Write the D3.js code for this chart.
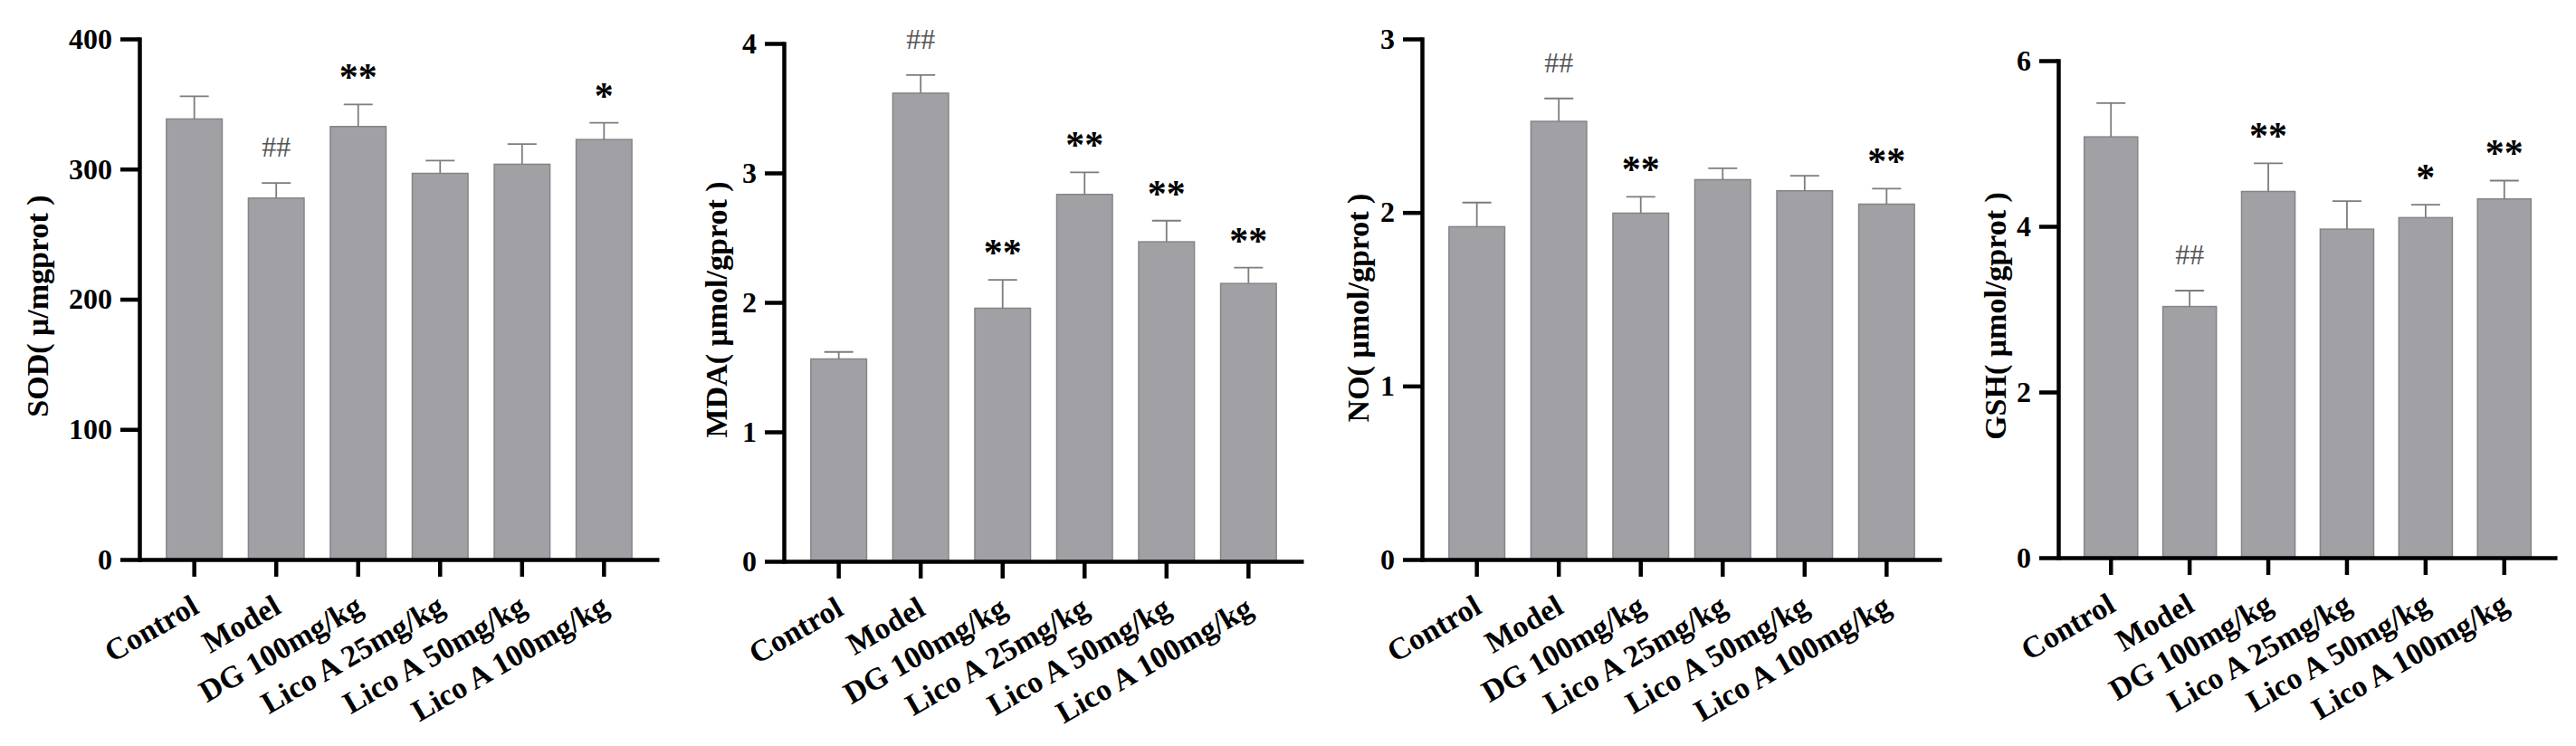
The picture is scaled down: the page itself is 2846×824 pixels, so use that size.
<!DOCTYPE html>
<html>
<head>
<meta charset="utf-8">
<script src="https://cdn.jsdelivr.net/npm/d3@7/dist/d3.min.js"></script>
<style>
  body { margin: 0; background: #fff; }
  svg text { font-family: "Liberation Serif", "Times New Roman", serif; }
</style>
</head>
<body>
<div id="chart"></div>
<script>
// groups on the x axis (same for the four panels)
var groups = ["Control", "Model", "DG 100mg/kg", "Lico A 25mg/kg", "Lico A 50mg/kg", "Lico A 100mg/kg"];

// SOD
var sodMean = [338.5, 277.7, 332.7, 296.7, 303.7, 322.7];
var sodErr = [17.4, 11.6, 16.9, 9.8, 15.5, 12.8];
var sodMarks = ["", "##", "**", "", "", "*"];
var sodTicks = [0, 100, 200, 300, 400];

// MDA
var mdaMean = [1.563, 3.616, 1.955, 2.834, 2.468, 2.146];
var mdaErr = [0.054, 0.14, 0.219, 0.17, 0.163, 0.123];
var mdaMarks = ["", "##", "**", "**", "**", "**"];
var mdaTicks = [0, 1, 2, 3, 4];

// NO
var noMean = [1.918, 2.525, 1.996, 2.189, 2.125, 2.048];
var noErr = [0.139, 0.132, 0.094, 0.066, 0.087, 0.089];
var noMarks = ["", "##", "**", "", "", "**"];
var noTicks = [0, 1, 2, 3];

// GSH
var gshMean = [5.080, 3.032, 4.421, 3.966, 4.105, 4.331];
var gshErr = [0.408, 0.192, 0.339, 0.339, 0.156, 0.221];
var gshMarks = ["", "##", "**", "", "*", "**"];
var gshTicks = [0, 2, 4, 6];

var titles = ["SOD( \u03bc/mgprot )", "MDA( \u03bcmol/gprot )", "NO( \u03bcmol/gprot )", "GSH( \u03bcmol/gprot )"];

// panel layout (pixels)
var panels = [
    {mean: sodMean, err: sodErr, marks: sodMarks, ticks: sodTicks, left: 154, right: 728, bottom: 618, top: 43, titleX: 53, titleY: 338},
    {mean: mdaMean, err: mdaErr, marks: mdaMarks, ticks: mdaTicks, left: 866, right: 1440, bottom: 620, top: 48, titleX: 803, titleY: 342},
    {mean: noMean, err: noErr, marks: noMarks, ticks: noTicks, left: 1571, right: 2145, bottom: 618, top: 43, titleX: 1512, titleY: 340},
    {mean: gshMean, err: gshErr, marks: gshMarks, ticks: gshTicks, left: 2274, right: 2825, bottom: 616, top: 67, titleX: 2216, titleY: 349}
];

var svg = d3.select("#chart")
    .append("svg")
    .attr("width", 2846)
    .attr("height", 824);

svg.append("rect")
    .attr("width", 2846)
    .attr("height", 824)
    .attr("fill", "#fff");

panels.forEach(function(p, k) {
    var g = svg.append("g");
    var ticks = p.ticks;

    var x = d3.scaleBand()
        .domain(groups)
        .range([p.left, p.right])
        .paddingInner(0.32)
        .paddingOuter(0.33);

    var y = d3.scaleLinear()
        .domain([0, ticks[ticks.length - 1]])
        .range([p.bottom, p.top]);

    var data = groups.map(function(name, i) {
        return {name: name, mean: p.mean[i], err: p.err[i], mark: p.marks[i]};
    });

    // bars
    g.selectAll("rect.bar")
        .data(data)
        .enter()
        .append("rect")
        .attr("class", "bar")
        .attr("x", function(d) { return x(d.name); })
        .attr("y", function(d) { return y(d.mean); })
        .attr("width", x.bandwidth())
        .attr("height", function(d) { return y(0) - y(d.mean); })
        .attr("fill", "#a1a1a5")
        .attr("stroke", "#858588")
        .attr("stroke-width", 1.5);

    // error bars (upper only)
    g.selectAll("line.whisker")
        .data(data)
        .enter()
        .append("line")
        .attr("class", "whisker")
        .attr("x1", function(d) { return x(d.name) + x.bandwidth() / 2; })
        .attr("x2", function(d) { return x(d.name) + x.bandwidth() / 2; })
        .attr("y1", function(d) { return y(d.mean); })
        .attr("y2", function(d) { return y(d.mean + d.err); })
        .attr("stroke", "#7d7d80")
        .attr("stroke-width", 1.8);

    g.selectAll("line.cap")
        .data(data)
        .enter()
        .append("line")
        .attr("class", "cap")
        .attr("x1", function(d) { return x(d.name) + x.bandwidth() / 2 - 16; })
        .attr("x2", function(d) { return x(d.name) + x.bandwidth() / 2 + 16; })
        .attr("y1", function(d) { return y(d.mean + d.err); })
        .attr("y2", function(d) { return y(d.mean + d.err); })
        .attr("stroke", "#7d7d80")
        .attr("stroke-width", 1.8);

    // significance marks
    g.selectAll("text.mark")
        .data(data.filter(function(d) { return d.mark !== ""; }))
        .enter()
        .append("text")
        .attr("class", "mark")
        .attr("x", function(d) { return x(d.name) + x.bandwidth() / 2; })
        .attr("y", function(d) { return y(d.mean + d.err) - (d.mark === "##" ? 29 : 16); })
        .attr("text-anchor", "middle")
        .attr("font-size", function(d) { return d.mark === "##" ? "32px" : "42px"; })
        .attr("font-weight", function(d) { return d.mark === "##" ? 400 : 700; })
        .attr("fill", function(d) { return d.mark === "##" ? "#555" : "#000"; })
        .text(function(d) { return d.mark; });

    // y axis
    var yAxis = g.append("g")
        .attr("transform", "translate(" + p.left + ",0)")
        .call(d3.axisLeft(y).tickValues(ticks).tickFormat(d3.format("d"))
            .tickSize(21).tickSizeOuter(0).tickPadding(9));

    yAxis.select(".domain")
        .attr("stroke", "#000")
        .attr("stroke-width", 4.5)
        .attr("stroke-linecap", "square");
    yAxis.selectAll(".tick line")
        .attr("stroke", "#000")
        .attr("stroke-width", 4.5);
    yAxis.selectAll(".tick text")
        .attr("font-size", "32px")
        .attr("font-weight", 700)
        .attr("fill", "#000")
        .attr("font-family", "Liberation Serif");

    // x axis
    var xAxis = g.append("g")
        .attr("transform", "translate(0," + p.bottom + ")")
        .call(d3.axisBottom(x).tickSize(19).tickSizeOuter(0));

    xAxis.select(".domain")
        .attr("stroke", "#000")
        .attr("stroke-width", 4.5);
    xAxis.selectAll(".tick line")
        .attr("stroke", "#000")
        .attr("stroke-width", 4.5);
    xAxis.selectAll(".tick text")
        .attr("x", 0)
        .attr("y", 0)
        .attr("dy", 0)
        .attr("transform", "translate(7,58) rotate(-30)")
        .attr("text-anchor", "end")
        .attr("font-size", "34px")
        .attr("font-weight", 700)
        .attr("fill", "#000")
        .attr("font-family", "Liberation Serif");

    // y axis title
    g.append("text")
        .attr("transform", "translate(" + p.titleX + "," + p.titleY + ") rotate(-90)")
        .attr("text-anchor", "middle")
        .attr("font-size", "34px")
        .attr("font-weight", 700)
        .attr("fill", "#000")
        .text(titles[k]);
});
</script>
</body>
</html>
